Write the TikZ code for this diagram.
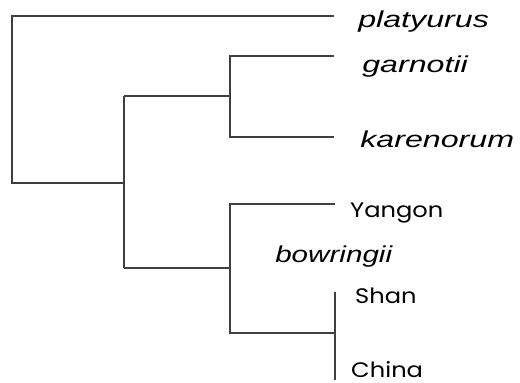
\documentclass[tikz,border=0pt]{standalone}
\usepackage{fontspec}
\setmainfont{Liberation Sans}
\newfontfamily\placefont{Poppins}
\tikzset{
	branch/.style={line width=1.1pt,color=black!75},
	species/.style={anchor=base west,inner sep=0pt,xscale=1.4,font=\itshape\fontsize{23}{23}\selectfont},
	place/.style={anchor=base west,inner sep=0pt,xscale=1.15,font=\placefont\fontsize{21}{21}\selectfont},
}
\begin{document}
\begin{tikzpicture}[x=1pt,y=-1pt]
	%Cadre
	\useasboundingbox (0,0) rectangle (520,383) ;
	%Sommets
	\coordinate (rtop)	at (12,16)	;
	\coordinate (rbot)	at (12,183)	;
	\coordinate (amid)	at (124,183)	;
	\coordinate (atop)	at (124,96)	;
	\coordinate (abot)	at (124,268)	;
	\coordinate (bmid)	at (230,96)	;
	\coordinate (btop)	at (230,56)	;
	\coordinate (bbot)	at (230,137)	;
	\coordinate (cmid)	at (230,268)	;
	\coordinate (ctop)	at (230,204)	;
	\coordinate (cbot)	at (230,333)	;
	\coordinate (dmid)	at (335,333)	;
	\coordinate (dtop)	at (335,292)	;
	\coordinate (dbot)	at (335,380)	;
	\coordinate (tplat)	at (334,16)	;
	\coordinate (tgarn)	at (334,56)	;
	\coordinate (tkare)	at (334,137)	;
	\coordinate (tyang)	at (335,204)	;
	%Branches
	\draw [branch]	(tplat)	-- (rtop)	-- (rbot)	-- (amid)	;
	\draw [branch]	(atop)	-- (abot)	;
	\draw [branch]	(atop)	-- (bmid)	;
	\draw [branch]	(tgarn)	-- (btop)	-- (bbot)	-- (tkare)	;
	\draw [branch]	(abot)	-- (cmid)	;
	\draw [branch]	(tyang)	-- (ctop)	-- (cbot)	-- (dmid)	;
	\draw [branch]	(dtop)	-- (dbot)	;
	%Noms
	\node [species]	(platyurus)	at (358,27)	{platyurus}	;
	\node [species]	(garnotii)	at (362,72)	{garnotii}	;
	\node [species]	(karenorum)	at (360,147)	{karenorum}	;
	\node [species,xscale=0.92]	(bowringii)	at (275,262)	{bowringii}	;
	\node [place]	(yangon)	at (350,217)	{Yangon}	;
	\node [place]	(shan)		at (355,303)	{Shan}		;
	\node [place]	(china)		at (351,377)	{China}		;
\end{tikzpicture}
\end{document}
